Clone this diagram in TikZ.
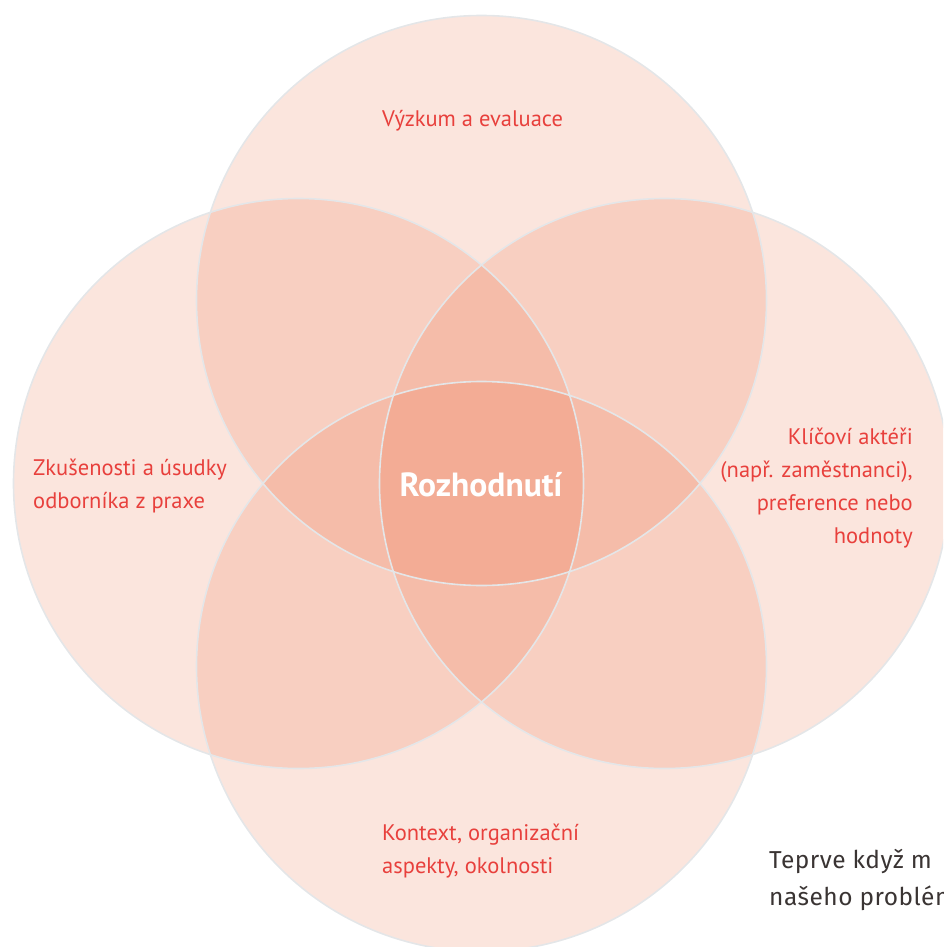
\documentclass[tikz,border=0pt]{standalone}
\usepackage{fontspec}
\setmainfont{PT Sans}
\newfontfamily\dispfont[LetterSpace=2]{Fira Sans}
\definecolor{petal}{RGB}{230,88,40}
\definecolor{rim}{RGB}{228,230,232}
\definecolor{labred}{RGB}{232,64,60}
\definecolor{dispgray}{RGB}{58,52,51}
\tikzset{
  petalfill/.style={circle,inner sep=0pt,minimum size=570pt,fill=petal,fill opacity=0.155},
  petalrim/.style={draw=rim,line width=1.6pt},
  lab/.style={text=labred,inner sep=0pt,font=\fontsize{22.5}{33}\selectfont},
  core/.style={text=white,inner sep=0pt,font=\fontsize{33.5}{36}\selectfont\bfseries},
  disp/.style={text=dispgray,inner sep=0pt,align=left,font=\dispfont\fontsize{24.5}{37}\selectfont}
}
\begin{document}
\begin{tikzpicture}[x=1pt,y=-1pt]
\useasboundingbox (0,0) rectangle (943,947);
\clip (0,0) rectangle (943,947);
\node[petalfill] (top) at (481.5,300.5) {};
\node[petalfill] (left) at (298.5,483.5) {};
\node[petalfill] (right) at (664.5,483.5) {};
\node[petalfill] (bottom) at (481.5,666.5) {};
\draw[petalrim] (top.center) circle[radius=285pt];
\draw[petalrim] (left.center) circle[radius=285pt];
\draw[petalrim] (right.center) circle[radius=285pt];
\draw[petalrim] (bottom.center) circle[radius=285pt];
\node[lab,anchor=west] (ltop) at (382,121) {Výzkum a evaluace};
\node[lab,anchor=west,align=left] (lleft) at (33,486) {Zkušenosti a úsudky\\odborníka z praxe};
\node[lab,anchor=east,align=right] (lright) at (913,488) {Klíčoví aktéři\\(např. zaměstnanci),\\preference nebo\\hodnoty};
\node[lab,anchor=west,align=left] (lbottom) at (382,851) {Kontext, organizační\\aspekty, okolnosti};
\node[core] (lcore) at (481,485) {Rozhodnutí};
\node[disp,anchor=north west] (tail) at (769,849) {Teprve když m\\našeho problém};
\end{tikzpicture}
\end{document}
